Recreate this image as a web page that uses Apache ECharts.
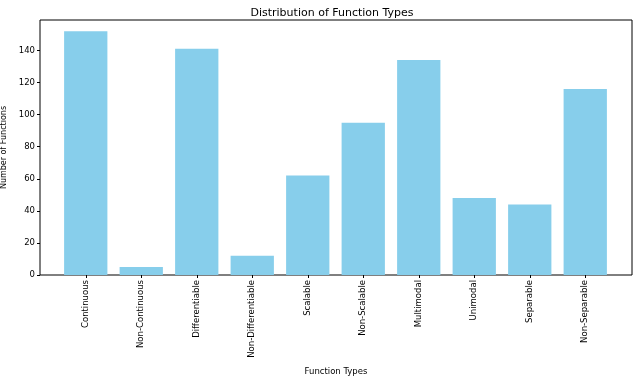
<!DOCTYPE html>
<html>
<head>
<meta charset="utf-8">
<script src="https://cdn.jsdelivr.net/npm/echarts@6/dist/echarts.min.js"></script>
<style>
  html, body { margin: 0; padding: 0; background: #fff; }
  #chart { width: 640px; height: 381px; }
</style>
</head>
<body>
<div id="chart"></div>
<script>
// 数据
var categories = ['Continuous', 'Non-Continuous', 'Differentiable', 'Non-Differentiable',
  'Scalable', 'Non-Scalable', 'Multimodal', 'Unimodal', 'Separable', 'Non-Separable'];
var counts = [152, 5, 141, 12, 62, 95, 134, 48, 44, 116];
var yTicks = [0, 20, 40, 60, 80, 100, 120, 140];

var font = 'DejaVu Sans';
var yMax = 159;

var chart = echarts.init(document.getElementById('chart'));

var option = {
  animation: false,
  textStyle: { fontFamily: font },
  title: {
    text: 'Distribution of Function Types',
    left: 327, top: 3, textAlign: 'center',
    textStyle: { fontSize: 11, fontWeight: 'normal', color: '#000', fontFamily: font }
  },
  grid: [
    // 外框 + y轴
    { left: 40, right: 8, top: 20, bottom: 106, show: true, borderColor: '#000', borderWidth: 1,
      outerBoundsMode: 'none' },
    // 柱子
    { left: 58, right: 27, top: 20, bottom: 106, outerBoundsMode: 'none' }
  ],
  xAxis: [
    { gridIndex: 0, type: 'value', min: 0, max: 1,
      axisLine: { show: false }, axisTick: { show: false }, axisLabel: { show: false }, splitLine: { show: false },
      name: 'Function Types', nameLocation: 'middle', nameGap: 92,
      nameTextStyle: { fontSize: 8.5, color: '#000', fontFamily: font } },
    { gridIndex: 1, type: 'category', data: categories,
      axisLine: { show: false },
      axisTick: { show: true, alignWithLabel: true, length: 3, lineStyle: { color: '#000' } },
      axisLabel: { rotate: 90, fontSize: 8.5, color: '#000', margin: 5, interval: 0, fontFamily: font } }
  ],
  yAxis: [
    { gridIndex: 0, type: 'value', min: 0, max: yMax,
      axisLine: { show: false },
      axisTick: { show: true, length: 3, lineStyle: { color: '#000' }, customValues: yTicks },
      axisLabel: { fontSize: 8.5, color: '#000', margin: 5, fontFamily: font, customValues: yTicks },
      splitLine: { show: false },
      name: 'Number of Functions', nameLocation: 'middle', nameGap: 27,
      nameTextStyle: { fontSize: 8, color: '#000', fontFamily: font } },
    { gridIndex: 1, type: 'value', min: 0, max: yMax, show: false }
  ],
  series: [{
    type: 'bar',
    xAxisIndex: 1, yAxisIndex: 1,
    data: counts,
    barWidth: '78%',
    itemStyle: { color: '#87CEEB' }
  }]
};

chart.setOption(option);
</script>
</body>
</html>
